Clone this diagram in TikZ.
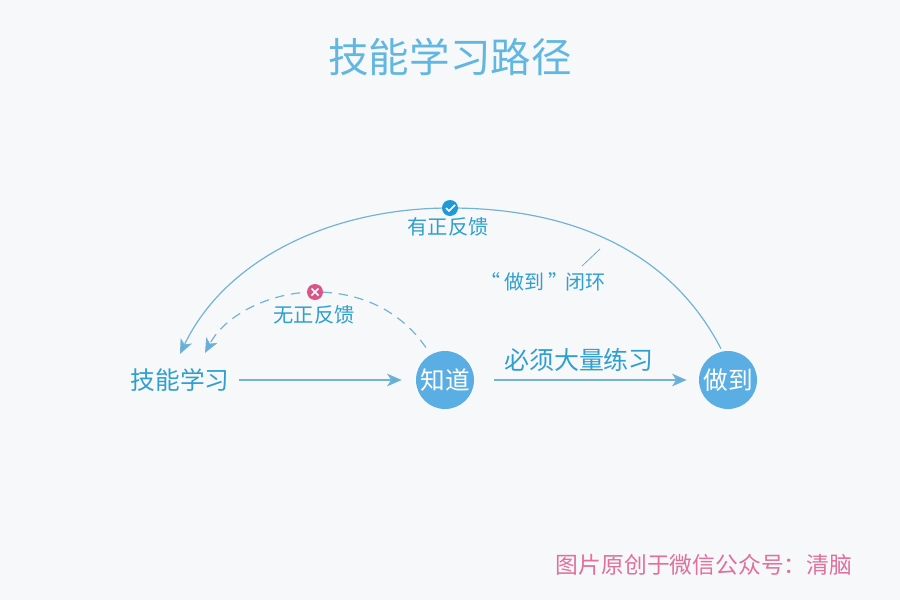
\documentclass[tikz,border=0pt]{standalone}
\usepackage{fontspec}
\setmainfont{Noto Sans CJK SC}
\usetikzlibrary{arrows.meta}
\definecolor{bgcol}{HTML}{F7F8FA}
\definecolor{titlecol}{HTML}{62B7E2}
\definecolor{textcol}{HTML}{2F9FCF}
\definecolor{linecol}{HTML}{72B3D6}
\definecolor{ballcol}{HTML}{5BAEE3}
\definecolor{okcol}{HTML}{1E9AD8}
\definecolor{nocol}{HTML}{D9558A}
\definecolor{markcol}{HTML}{E0709C}
\tikzset{
	flow/.style={draw=linecol,line width=0.9pt,-{Stealth[length=11pt,width=9.5pt,inset=3pt,fill=ballcol!70!linecol]}},
	ball/.style={circle,fill=ballcol,text=white,minimum size=43.5pt,inner sep=0pt,font=\fontsize{18.5}{20}\selectfont},
	tag/.style={text=textcol,inner sep=0pt,font=\fontsize{15.2}{17}\selectfont},
	badge/.style={circle,minimum size=12pt,inner sep=0pt},
}
\begin{document}
\begin{tikzpicture}[x=0.75pt,y=-0.75pt]
	\fill[bgcol] (0,0) rectangle (900,600);
	\useasboundingbox (0,0) rectangle (900,600);
	\path (445,380) coordinate (K)
	(728,380) coordinate (D)
	(180,354) coordinate (E1)
	(205,353) coordinate (E2)
	(450,208) coordinate (T1)
	(315,292) coordinate (T2);
	\node[text=titlecol,inner sep=0pt,font=\fontsize{30.4}{32}\selectfont] (title) at (450,57) {技能学习路径};
	\node[ball] (know) at (K) {知道};
	\node[ball] (done) at (D) {做到};
	\node[text=textcol,inner sep=0pt,font=\fontsize{18.5}{20}\selectfont] (skill) at (180,380) {技能学习};
	\node[text=textcol,inner sep=0pt,font=\fontsize{18.7}{20}\selectfont] (must) at (579,360) {必须大量练习};
	\node[tag] (good) at (448,227) {有正反馈};
	\node[tag] (bad) at (314,315) {无正反馈};
	\node[tag,font=\fontsize{15}{17}\selectfont] (loop) at (543,282) {“\hspace{3pt}做到\hspace{3pt}”\hspace{-2.5pt}闭环};
	\node[text=markcol,inner sep=0pt,font=\fontsize{17.1}{19}\selectfont] (mark) at (704,565) {图片原创于微信公众号：清脑};
	\draw[flow,shorten <=7pt,shorten >=10.5pt] (skill.east) -- (know.west);
	\draw[flow,shorten <=15pt,shorten >=9pt] (know.east) -- (done.west);
	\draw[flow] (done.104) ++(0,-3) .. controls (670,250) and (570,208) .. (T1) .. controls (330,208) and (225,260) .. (E1);
	\draw[flow,dash pattern=on 7pt off 5pt] (know.119) ++(-5,-7) .. controls (400,310) and (360,292) .. (T2) .. controls (270,292) and (225,315) .. (E2);
	\coordinate (p1) at (600,249);
	\coordinate (p2) at (582,266);
	\draw[linecol!80!gray,line width=0.6pt] (p1) -- (p2);
	\node[badge,fill=okcol] (ok) at (T1) {};
	\node[badge,fill=nocol] (no) at (T2) {};
	\draw[white,line width=1.1pt] (ok.center) ++(-4,0) -- ++(3,3) -- ++(6,-6);
	\draw[white,line width=1.1pt] (no.center) ++(-3.5,-3.5) -- ++(7,7) ++(-7,0) -- ++(7,-7);
\end{tikzpicture}
\end{document}
